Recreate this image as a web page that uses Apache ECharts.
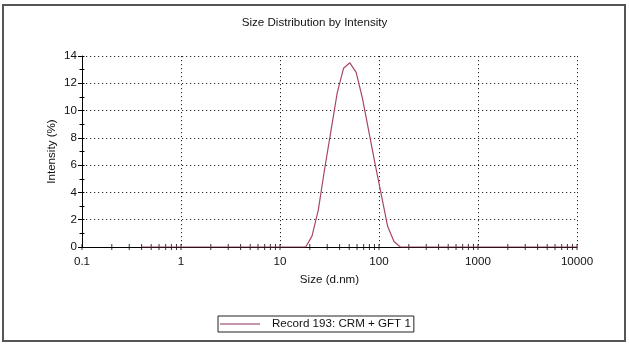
<!DOCTYPE html>
<html>
<head>
<meta charset="utf-8">
<script src="https://cdn.jsdelivr.net/npm/echarts@6/dist/echarts.min.js"></script>
<style>
html,body{margin:0;padding:0;background:#fff;}
#c{width:629px;height:344px;}
</style>
</head>
<body>
<div id="c"></div>
<script>
var titleText = 'Size Distribution by Intensity';
var xName = 'Size (d.nm)';
var yName = 'Intensity (%)';
var seriesName = 'Record 193: CRM + GFT 1';

var sizes = [0.4, 0.4632, 0.5365, 0.6213, 0.7195, 0.8332, 0.9649, 1.117, 1.294, 1.499,
  1.736, 2.01, 2.328, 2.696, 3.122, 3.615, 4.187, 4.849, 5.615, 6.503,
  7.531, 8.721, 10.1, 11.7, 13.54, 15.69, 18.17, 21.04, 24.36, 28.21,
  32.67, 37.84, 43.82, 50.75, 58.77, 68.06, 78.82, 91.28, 105.7, 122.4,
  141.8, 164.2, 190.1, 220.2, 255.0, 295.3, 342.0, 396.1, 458.7, 531.2,
  615.1, 712.4, 825.0, 955.4, 1106, 1281, 1484, 1718, 1990, 2305,
  2669, 3091, 3580, 4145, 4801, 5560, 6439, 7456, 8635, 10000];
var intensities = [0, 0, 0, 0, 0, 0, 0, 0, 0, 0,
  0, 0, 0, 0, 0, 0, 0, 0, 0, 0,
  0, 0, 0, 0, 0, 0, 0, 0.8, 2.7, 5.7,
  8.5, 11.3, 13.1, 13.5, 12.8, 10.9, 8.5, 6.1, 3.8, 1.5,
  0.4, 0, 0, 0, 0, 0, 0, 0, 0, 0,
  0, 0, 0, 0, 0, 0, 0, 0, 0, 0,
  0, 0, 0, 0, 0, 0, 0, 0, 0, 0];

var xTickValues = [0.1, 0.2, 0.3, 0.4, 0.5, 0.6, 0.7, 0.8, 0.9,
  1, 2, 3, 4, 5, 6, 7, 8, 9,
  10, 20, 30, 40, 50, 60, 70, 80, 90,
  100, 200, 300, 400, 500, 600, 700, 800, 900,
  1000, 2000, 3000, 4000, 5000, 6000, 7000, 8000, 9000, 10000];
var xMajorLabels = ['0.1', '1', '10', '100', '1000', '10000'];

var FONT = 'Liberation Sans, Arial, sans-serif';
var chart = echarts.init(document.getElementById('c'), null, {renderer: 'canvas'});

var lineData = sizes.map(function (s, i) { return [s, intensities[i]]; });
var tickData = xTickValues.map(function (v) { return [v, 0]; });

var dotted = {color: '#222', width: 1, type: [1.2, 2.8]};

chart.setOption({
  animation: false,
  backgroundColor: '#fff',
  title: {
    text: titleText,
    left: 'center',
    top: 12,
    textStyle: {fontFamily: FONT, fontSize: 11.6, fontWeight: 'normal', color: '#111'}
  },
  grid: {left: 82, right: 52, top: 56, bottom: 97, containLabel: false},
  legend: {
    data: [seriesName],
    left: 218,
    top: 316,
    icon: 'rect',
    itemWidth: 40,
    itemHeight: 1,
    borderColor: '#222',
    borderWidth: 1,
    borderRadius: 0,
    padding: [2, 3, 2, 2],
    textStyle: {fontFamily: FONT, fontSize: 11.6, color: '#111', padding: [0, 0, 0, 7]}
  },
  xAxis: [{
    type: 'log',
    logBase: 10,
    min: 0.1,
    max: 10000,
    name: xName,
    nameLocation: 'middle',
    nameGap: 27,
    nameMoveOverlap: false,
    nameTextStyle: {fontFamily: FONT, fontSize: 11.6, color: '#111'},
    axisLine: {show: true, onZero: false, lineStyle: {color: '#000', width: 1}},
    axisTick: {show: false},
    axisLabel: {
      fontFamily: FONT, fontSize: 11.6, color: '#111', margin: 9,
      formatter: function (v) {
        var idx = Math.round(Math.log10(v)) + 1;
        return xMajorLabels[idx] !== undefined ? xMajorLabels[idx] : String(v);
      }
    },
    splitLine: {show: true, lineStyle: dotted}
  }],
  yAxis: [{
    type: 'value',
    min: 0,
    max: 14,
    interval: 2,
    name: yName,
    nameLocation: 'middle',
    nameGap: 24,
    nameMoveOverlap: false,
    nameTextStyle: {fontFamily: FONT, fontSize: 11.6, color: '#111'},
    axisLine: {show: true, lineStyle: {color: '#000', width: 1}},
    axisTick: {show: true, length: 4, lineStyle: {color: '#000'}},
    minorTick: {show: true, splitNumber: 2, length: 2.5, lineStyle: {color: '#000'}},
    axisLabel: {fontFamily: FONT, fontSize: 11.6, color: '#111', margin: 5},
    splitLine: {show: true, lineStyle: dotted}
  }, {
    type: 'value',
    min: 0,
    max: 14,
    interval: 2,
    position: 'left',
    axisLine: {show: false},
    axisTick: {show: true, inside: true, length: 2.5, lineStyle: {color: '#000'}},
    minorTick: {show: true, splitNumber: 2, length: 2.5, lineStyle: {color: '#000'}},
    axisLabel: {show: false},
    splitLine: {show: false}
  }],
  series: [{
    type: 'scatter',
    name: 'ticks',
    data: tickData,
    symbol: 'rect',
    symbolSize: [1, 6],
    itemStyle: {color: '#000'},
    silent: true,
    clip: false,
    z: 1
  }, {
    type: 'line',
    name: seriesName,
    data: lineData,
    showSymbol: false,
    symbol: 'none',
    lineStyle: {color: '#a8456e', width: 1.2},
    itemStyle: {color: '#8a2f58'},
    z: 3
  }],
  graphic: [{
    type: 'rect',
    shape: {x: 3, y: 5, width: 622, height: 336},
    style: {fill: 'none', stroke: '#555', lineWidth: 2},
    silent: true
  }]
});
</script>
</body>
</html>
